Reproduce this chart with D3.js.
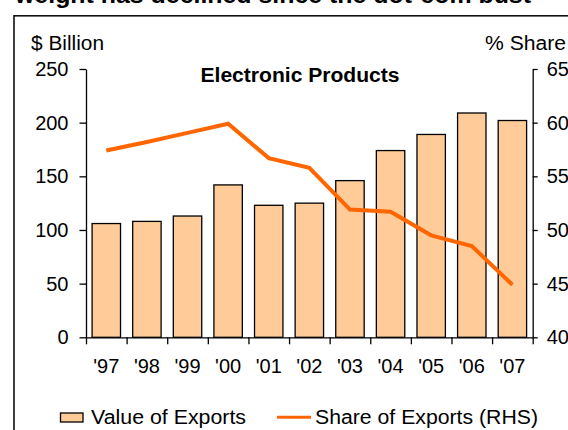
<!DOCTYPE html>
<html>
<head>
<meta charset="utf-8">
<script src="https://cdn.jsdelivr.net/npm/d3@7"></script>
<style>
  body { margin: 0; background: #fff; }
  svg { display: block; font-family: 'Liberation Sans', Arial, sans-serif; }
  .axis path, .axis line { stroke: #000; stroke-width: 1.3; }
  .axis text { font-size: 20px; fill: #000; }
</style>
</head>
<body>
<div id="chart"></div>
<script>
const years = ["'97", "'98", "'99", "'00", "'01", "'02", "'03", "'04", "'05", "'06", "'07"]
const exportValue = [106, 108, 113, 142, 123, 125, 146, 174, 189, 209, 202]
const exportShare = [57.4, 58.2, 59.05, 59.9, 56.7, 55.8, 51.9, 51.7, 49.5, 48.5, 44.9]
const leftTicks = [0, 50, 100, 150, 200, 250]
const rightTicks = [40, 45, 50, 55, 60, 65]

const W = 568, H = 430
const plot = { left: 86, right: 532.7, top: 69, bottom: 337.3 }

const svg = d3.select('#chart').append('svg')
  .attr('width', W)
  .attr('height', H)

// headline, cut off at the top of the picture
svg.append('text')
  .attr('x', 15)
  .attr('y', 3)
  .attr('textLength', 516)
  .attr('lengthAdjust', 'spacingAndGlyphs')
  .style('font-size', '24px')
  .style('font-weight', 'bold')
  .text('weight has declined since the dot-com bust')

// chart frame
svg.append('rect')
  .attr('x', 14)
  .attr('y', 15.8)
  .attr('width', W)
  .attr('height', H)
  .attr('fill', 'none')
  .attr('stroke', '#111')
  .attr('stroke-width', 1.6)

const x = d3.scaleBand()
  .domain(years)
  .range([plot.left, plot.right])

const xEdges = d3.scaleLinear()
  .domain([0, years.length])
  .range([plot.left, plot.right])

const yLeft = d3.scaleLinear()
  .domain([0, 250])
  .range([plot.bottom, plot.top])

const yRight = d3.scaleLinear()
  .domain([40, 65])
  .range([plot.bottom, plot.top])

// bars
const barW = x.bandwidth() * 0.7
svg.append('g').classed('bars', true)
  .selectAll('rect')
  .data(exportValue).enter()
  .append('rect')
  .attr('x', (d, i) => x(years[i]) + (x.bandwidth() - barW) / 2)
  .attr('y', d => yLeft(d))
  .attr('width', barW)
  .attr('height', d => yLeft(0) - yLeft(d))
  .attr('fill', '#ffcc99')
  .attr('stroke', '#000')
  .attr('stroke-width', 1.3)

// share line
const line = d3.line()
  .x((d, i) => x(years[i]) + x.bandwidth() / 2)
  .y(d => yRight(d))

svg.append('path')
  .datum(exportShare)
  .attr('d', line)
  .attr('fill', 'none')
  .attr('stroke', '#ff6600')
  .attr('stroke-width', 4)

// axes
svg.append('g').classed('axis', true)
  .attr('transform', 'translate(' + plot.left + ', 0)')
  .call(d3.axisLeft(yLeft).tickValues(leftTicks).tickSize(6.5).tickSizeOuter(0).tickPadding(11))

svg.append('g').classed('axis', true)
  .attr('transform', 'translate(' + plot.right + ', 0)')
  .call(d3.axisRight(yRight).tickValues(rightTicks).tickSize(5).tickSizeOuter(0).tickPadding(9))

svg.append('g').classed('axis', true)
  .attr('transform', 'translate(0, ' + plot.bottom + ')')
  .call(d3.axisBottom(xEdges).tickValues(d3.range(years.length + 1)).tickFormat('').tickSize(7).tickSizeOuter(0))

const xLabels = svg.append('g').classed('axis', true)
  .attr('transform', 'translate(0, ' + plot.bottom + ')')
  .call(d3.axisBottom(x).tickSize(0).tickPadding(22))
xLabels.select('.domain').remove()

// stretch a label to the width it has in the original
const fit = (sel, len) => sel.attr('textLength', len).attr('lengthAdjust', 'spacingAndGlyphs')

// axis titles
svg.append('text')
  .attr('x', 31)
  .attr('y', 50)
  .style('font-size', '20px')
  .text('$ Billion')
  .call(fit, 73)

svg.append('text')
  .attr('x', 485)
  .attr('y', 50)
  .style('font-size', '20px')
  .text('% Share')
  .call(fit, 81)

svg.append('text')
  .attr('x', 200.5)
  .attr('y', 82)
  .style('font-size', '20px')
  .style('font-weight', 'bold')
  .text('Electronic Products')
  .call(fit, 199)

// legend
const legend = svg.append('g').classed('legend', true)
  .style('font-size', '20px')

legend.append('rect')
  .attr('x', 60.5)
  .attr('y', 413)
  .attr('width', 22.5)
  .attr('height', 9)
  .attr('fill', '#ffcc99')
  .attr('stroke', '#000')
  .attr('stroke-width', 1.3)

legend.append('text')
  .attr('x', 91)
  .attr('y', 424)
  .text('Value of Exports')
  .call(fit, 155)

legend.append('line')
  .attr('x1', 277)
  .attr('x2', 311)
  .attr('y1', 417.3)
  .attr('y2', 417.3)
  .attr('stroke', '#ff6600')
  .attr('stroke-width', 3)

legend.append('text')
  .attr('x', 315)
  .attr('y', 424)
  .text('Share of Exports (RHS)')
  .call(fit, 223)
</script>
</body>
</html>
